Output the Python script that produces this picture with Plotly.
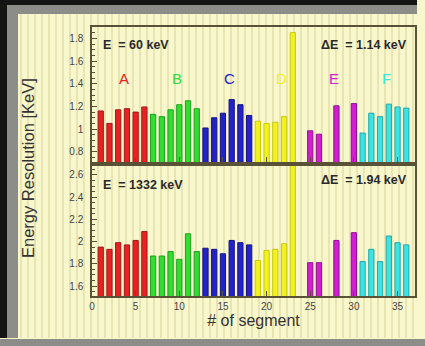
import plotly.graph_objects as go
from plotly.subplots import make_subplots

segments = list(range(1, 37))
group_names = ["A", "B", "C", "D", "E", "F"]
group_colors = ["#e82222", "#30dd30", "#2323c8", "#f2f21e", "#d21ed2", "#3fe2e2"]
group_edges = ["#a01818", "#1fa01f", "#141480", "#c8c810", "#901090", "#22a8a8"]

res_60 = [1.16, 1.05, 1.17, 1.18, 1.15, 1.195,
          1.13, 1.11, 1.17, 1.215, 1.25, 1.18,
          1.01, 1.10, 1.14, 1.26, 1.215, 1.12,
          1.07, 1.05, 1.06, 1.11, 1.85, None,
          0.985, 0.955, None, 1.205, None, 1.225,
          0.965, 1.14, 1.11, 1.22, 1.195, 1.185]

res_1332 = [1.95, 1.93, 1.99, 1.97, 2.01, 2.09,
            1.87, 1.87, 1.91, 1.84, 2.07, 1.91,
            1.94, 1.93, 1.89, 2.01, 1.99, 1.97,
            1.83, 1.92, 1.93, 1.98, 2.80, None,
            1.81, 1.81, None, 2.01, None, 2.08,
            1.82, 1.93, 1.82, 2.05, 1.99, 1.97]

top_range = [0.71, 1.9]
bot_range = [1.51, 2.68]
x_range = [0, 37]

fig = make_subplots(rows=2, cols=1, shared_xaxes=True, vertical_spacing=0.02)

for gi in range(6):
    xs = segments[gi * 6:(gi + 1) * 6]
    for row, vals in ((1, res_60), (2, res_1332)):
        fig.add_trace(go.Bar(
            x=xs, y=vals[gi * 6:(gi + 1) * 6], width=0.6,
            marker=dict(color=group_colors[gi], line=dict(color=group_edges[gi], width=1)),
            showlegend=False, name=group_names[gi]), row=row, col=1)
    fig.add_annotation(x=segments[gi * 6] + 2.7, y=1.45, xref="x", yref="y",
                       text=group_names[gi], showarrow=False,
                       font=dict(size=15, color=group_colors[gi], family="Liberation Sans"))

txt_font = dict(size=12.5, color="#2a2a2a", family="Liberation Sans")
fig.add_annotation(x=1.0, y=1.74, xref="x", yref="y", text="<b>E  = 60 keV</b>",
                   showarrow=False, xanchor="left", font=txt_font)
fig.add_annotation(x=36.3, y=1.74, xref="x", yref="y", text="<b>ΔE  = 1.14 keV</b>",
                   showarrow=False, xanchor="right", font=txt_font)
fig.add_annotation(x=1.0, y=2.51, xref="x2", yref="y2", text="<b>E  = 1332 keV</b>",
                   showarrow=False, xanchor="left", font=txt_font)
fig.add_annotation(x=36.3, y=2.55, xref="x2", yref="y2", text="<b>ΔE  = 1.94 keV</b>",
                   showarrow=False, xanchor="right", font=txt_font)

# backdrop: dark frame, gray band, striped cream slide (screen-pixel helpers)
W, H = 417, 338
L, R, T, B = 92, 2, 27, 42
pw, ph = W - L - R, H - T - B


def px(x):
    return (x - L) / pw


def py(y):
    return (H - B - y) / ph


def prect(x0, x1, y0, y1, color):
    return dict(type="rect", xref="paper", yref="paper", x0=px(x0), x1=px(x1), y0=py(y1), y1=py(y0),
                fillcolor=color, line=dict(width=0), layer="below")


shapes = [
    prect(0, 7, 0, 346, "#141414"),
    prect(0, 425, 0, 5, "#141414"),
    prect(7, 18, 5, 346, "#8c8c88"),
    prect(7, 425, 5, 14, "#8c8c88"),
]
for sx in range(21, 425, 7):
    shapes.append(dict(type="line", xref="paper", yref="paper", x0=px(sx), x1=px(sx),
                       y0=py(339), y1=py(14), line=dict(color="#e8e4b4", width=2), layer="below"))
fig.update_layout(shapes=shapes)

axis_common = dict(showline=True, linecolor="#5a5236", linewidth=1.5, mirror=True, automargin=False,
                   ticks="inside", ticklen=5, tickcolor="#5a5236", showgrid=False, zeroline=False,
                   tickfont=dict(size=10, color="#444444", family="Liberation Sans"))

fig.update_xaxes(range=x_range, tickvals=[0, 5, 10, 15, 20, 25, 30, 35], **axis_common)
fig.update_xaxes(showticklabels=False, row=1, col=1)
fig.update_xaxes(title=dict(text="# of segment", font=dict(size=16, color="#333333", family="Liberation Sans"),
                            standoff=2), row=2, col=1)
fig.update_yaxes(range=top_range, tickvals=[0.8, 1, 1.2, 1.4, 1.6, 1.8],
                 ticktext=["0.8", "1", "1.2", "1.4", "1.6", "1.8"], ticklabelstandoff=5,
                 minor=dict(ticks="inside", ticklen=3, dtick=0.05, tickcolor="#5a5236"),
                 row=1, col=1, **axis_common)
fig.update_yaxes(range=bot_range, tickvals=[1.6, 1.8, 2, 2.2, 2.4, 2.6],
                 ticktext=["1.6", "1.8", "2", "2.2", "2.4", "2.6"], ticklabelstandoff=5,
                 minor=dict(ticks="inside", ticklen=3, dtick=0.05, tickcolor="#5a5236"),
                 row=2, col=1, **axis_common)

fig.update_layout(
    width=W, height=H, autosize=False,
    margin=dict(l=L, r=R, t=T, b=B, pad=0),
    paper_bgcolor="#f9f7cc", plot_bgcolor="rgba(0,0,0,0)",
    bargap=0.3,
)
top_lo = (H - B - 162) / ph
bot_hi = (H - B - 166) / ph
fig.update_layout(yaxis=dict(domain=[top_lo, 1.0]), yaxis2=dict(domain=[0.0, bot_hi]))
fig.add_annotation(x=px(28), y=py(168), xref="paper", yref="paper", text="Energy Resolution [KeV]",
                   textangle=-90, showarrow=False, xanchor="center", yanchor="middle",
                   font=dict(size=16.5, color="#333333", family="Liberation Sans"))

fig.write_html("out.html", config={"displayModeBar": False},
               post_script=("document.documentElement.style.margin='0';"
                            "document.documentElement.style.overflow='hidden';"
                            "document.body.style.margin='0';document.body.style.overflow='hidden';"
                            "document.documentElement.style.background="
                            "'linear-gradient(#f9f7cc 0px, #f9f7cc 339px, #8c8c88 339px)';"
                            "document.body.style.background='transparent';"))
